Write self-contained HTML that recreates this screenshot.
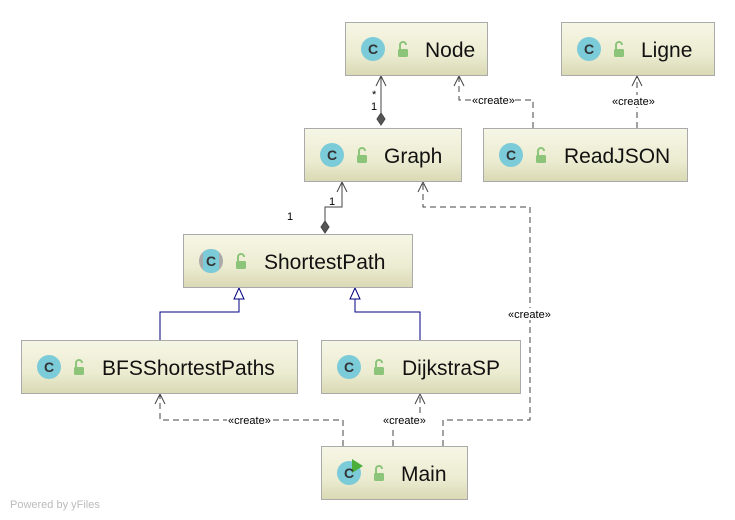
<!DOCTYPE html>
<html><head><meta charset="utf-8"><style>
body{margin:0;background:#fff;}
svg{display:block;font-family:"Liberation Sans","DejaVu Sans",sans-serif;}
</style></head><body>
<svg width="735" height="520" viewBox="0 0 735 520" xmlns="http://www.w3.org/2000/svg">
<defs>
<linearGradient id="g" x1="0" y1="0" x2="0" y2="1">
<stop offset="0" stop-color="#f6f6e6"/><stop offset="0.6" stop-color="#ececd2"/><stop offset="1" stop-color="#d9d9b5"/>
</linearGradient>
<clipPath id="cc"><circle cx="28" cy="27" r="12"/></clipPath>
<g id="lock"><rect x="-5" y="-1" width="10" height="8" rx="1.5" fill="#8cc47a"/><path d="M-3 -1 V-5 a3 3 0 0 1 6 0" fill="none" stroke="#8cc47a" stroke-width="2"/></g>
</defs>
<g fill="none" stroke="#444" stroke-width="1">
<line x1="381" y1="76" x2="381" y2="114"/>
<polyline points="376,86 381,76 386,86"/>
<polygon points="381,113 385,119 381,125 377,119" fill="#555"/>
<polyline points="325,222 325,207 342,207 342,182"/>
<polyline points="337,192 342,182 347,192"/>
<polygon points="325,221 329,227 325,233 321,227" fill="#555"/>
</g>
<g fill="none" stroke="#444" stroke-width="1" stroke-dasharray="6,4">
<polyline points="533,128 533,100 459,100 459,77"/>
<line x1="637" y1="128" x2="637" y2="77"/>
<polyline points="343,446 343,420 160,420 160,395"/>
<polyline points="393,446 393,420 420,420 420,395"/>
<polyline points="443,446 443,420 530,420 530,207 423,207 423,183"/>
</g>
<g fill="none" stroke="#444" stroke-width="1">
<polyline points="454,86 459,76 464,86"/>
<polyline points="632,86 637,76 642,86"/>
<polyline points="155,404 160,394 165,404"/>
<polyline points="415,404 420,394 425,404"/>
<polyline points="418,192 423,182 428,192"/>
</g>
<g fill="none" stroke="#000080" stroke-width="1">
<polyline points="160,340 160,312 239,312 239,299"/>
<polyline points="420,340 420,312 355,312 355,299"/>
<polygon points="239,288 244,299 234,299" fill="#fff"/>
<polygon points="355,288 360,299 350,299" fill="#fff"/>
</g>
<g font-size="11" fill="#000">
<text x="372" y="98">*</text><text x="371" y="110">1</text>
<text x="287" y="220">1</text><text x="329" y="205">1</text>
</g>
<g fill="#fff">
<rect x="472" y="94" width="42" height="12"/><rect x="612" y="95" width="42" height="12"/>
<rect x="227" y="414" width="46" height="12"/><rect x="382" y="414" width="46" height="12"/>
<rect x="507" y="308" width="46" height="12"/>
</g>
<g font-size="11" fill="#000">
<text x="472" y="104">«create»</text>
<text x="612" y="105">«create»</text>
<text x="228" y="424">«create»</text>
<text x="383" y="424">«create»</text>
<text x="508" y="318">«create»</text>
</g>
<g font-size="21" fill="#111">
<g transform="translate(345,22)"><rect x="0.5" y="0.5" width="142" height="53" fill="url(#g)" stroke="#aaa"/><circle cx="28" cy="27" r="12" fill="#7ccbd9"/><text x="28" y="32" font-size="14" font-weight="bold" text-anchor="middle" fill="#333">C</text><use href="#lock" x="58" y="28"/><text x="80" y="35">Node</text></g>
<g transform="translate(561,22)"><rect x="0.5" y="0.5" width="153" height="53" fill="url(#g)" stroke="#aaa"/><circle cx="28" cy="27" r="12" fill="#7ccbd9"/><text x="28" y="32" font-size="14" font-weight="bold" text-anchor="middle" fill="#333">C</text><use href="#lock" x="58" y="28"/><text x="80" y="35">Ligne</text></g>
<g transform="translate(304,128)"><rect x="0.5" y="0.5" width="157" height="53" fill="url(#g)" stroke="#aaa"/><circle cx="28" cy="27" r="12" fill="#7ccbd9"/><text x="28" y="32" font-size="14" font-weight="bold" text-anchor="middle" fill="#333">C</text><use href="#lock" x="58" y="28"/><text x="80" y="35">Graph</text></g>
<g transform="translate(483,128)"><rect x="0.5" y="0.5" width="204" height="53" fill="url(#g)" stroke="#aaa"/><circle cx="28" cy="27" r="12" fill="#7ccbd9"/><text x="28" y="32" font-size="14" font-weight="bold" text-anchor="middle" fill="#333">C</text><use href="#lock" x="58" y="28"/><text x="81" y="35">ReadJSON</text></g>
<g transform="translate(183,234)"><rect x="0.5" y="0.5" width="229" height="53" fill="url(#g)" stroke="#aaa"/><circle cx="28" cy="27" r="12" fill="#aaa"/><rect x="20" y="10" width="16" height="34" fill="#7ccbd9" clip-path="url(#cc)"/><text x="28" y="32" font-size="14" font-weight="bold" text-anchor="middle" fill="#333">C</text><use href="#lock" x="58" y="28"/><text x="81" y="35">ShortestPath</text></g>
<g transform="translate(21,340)"><rect x="0.5" y="0.5" width="276" height="53" fill="url(#g)" stroke="#aaa"/><circle cx="28" cy="27" r="12" fill="#7ccbd9"/><text x="28" y="32" font-size="14" font-weight="bold" text-anchor="middle" fill="#333">C</text><use href="#lock" x="58" y="28"/><text x="81" y="35">BFSShortestPaths</text></g>
<g transform="translate(321,340)"><rect x="0.5" y="0.5" width="199" height="53" fill="url(#g)" stroke="#aaa"/><circle cx="28" cy="27" r="12" fill="#7ccbd9"/><text x="28" y="32" font-size="14" font-weight="bold" text-anchor="middle" fill="#333">C</text><use href="#lock" x="58" y="28"/><text x="81" y="35">DijkstraSP</text></g>
<g transform="translate(321,446)"><rect x="0.5" y="0.5" width="146" height="53" fill="url(#g)" stroke="#aaa"/><circle cx="28" cy="27" r="12" fill="#7ccbd9"/><polygon points="31,13 42,20 31,27" fill="#4caf3c"/><text x="28" y="32" font-size="14" font-weight="bold" text-anchor="middle" fill="#333">C</text><use href="#lock" x="58" y="28"/><text x="80" y="35">Main</text></g>
</g>
<text x="10" y="508" font-size="11" fill="#bbb">Powered by yFiles</text>
</svg>
</body></html>
